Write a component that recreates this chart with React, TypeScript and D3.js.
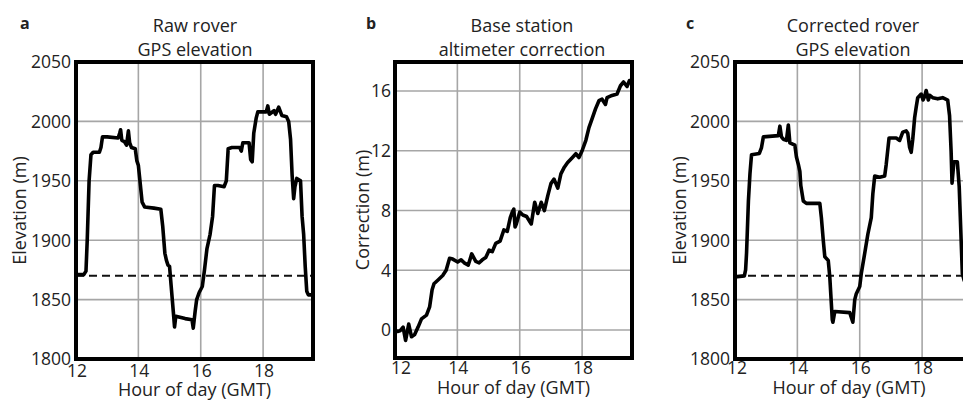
import React from 'react';
import * as d3 from 'd3';

// ---------- data ----------
const xTicks = [12, 14, 16, 18];
const elevTicks = [1800, 1850, 1900, 1950, 2000, 2050];
const corrTicks = [0, 4, 8, 12, 16];
const referenceElevation = 1870;

// [hour of day, raw rover GPS elevation (m)]
const rawRover: [number, number][] = [
  [12.0, 1871], [12.25, 1871], [12.32, 1874], [12.36, 1900], [12.42, 1950], [12.48, 1972],
  [12.55, 1974], [12.75, 1974], [12.8, 1978], [12.85, 1987], [13.0, 1987], [13.35, 1986],
  [13.4, 1990], [13.43, 1993], [13.47, 1984], [13.55, 1983], [13.62, 1980], [13.68, 1992],
  [13.72, 1982], [13.78, 1978], [13.9, 1977], [13.95, 1967], [14.0, 1963], [14.05, 1950],
  [14.12, 1932], [14.2, 1928], [14.5, 1927], [14.72, 1926], [14.78, 1912], [14.85, 1889],
  [14.9, 1883], [14.95, 1879], [15.0, 1878], [15.05, 1862], [15.12, 1840], [15.16, 1827],
  [15.2, 1836], [15.5, 1834], [15.72, 1833], [15.76, 1826], [15.82, 1840], [15.87, 1850],
  [15.95, 1856], [16.05, 1861], [16.12, 1875], [16.2, 1893], [16.3, 1905], [16.38, 1920],
  [16.44, 1946], [16.55, 1946], [16.75, 1945], [16.82, 1950], [16.88, 1977], [17.0, 1978],
  [17.25, 1978], [17.3, 1975], [17.35, 1982], [17.55, 1982], [17.6, 1968], [17.65, 1966],
  [17.7, 1990], [17.78, 2003], [17.83, 2008], [18.0, 2008], [18.1, 2008], [18.15, 2013],
  [18.2, 2006], [18.35, 2009], [18.4, 2006], [18.5, 2012], [18.6, 2005], [18.75, 2004],
  [18.82, 2000], [18.88, 1985], [18.93, 1955], [18.98, 1935], [19.02, 1945], [19.08, 1952],
  [19.2, 1950], [19.25, 1920], [19.3, 1905], [19.35, 1878], [19.4, 1857], [19.45, 1854],
  [19.6, 1854],
];

// [hour of day, base station altimeter correction (m)]
const baseCorrection: [number, number][] = [
  [12.0, 0.0], [12.08, -0.1], [12.16, -0.05], [12.26, 0.2], [12.34, -0.7], [12.44, 0.4],
  [12.53, -0.45], [12.63, -0.3], [12.74, 0.2], [12.85, 0.75], [13.01, 1.0], [13.11, 1.55],
  [13.19, 2.7], [13.25, 3.1], [13.38, 3.35], [13.53, 3.65], [13.64, 4.0], [13.75, 4.8],
  [13.85, 4.75], [14.01, 4.55], [14.12, 4.7], [14.22, 4.5], [14.35, 4.35], [14.46, 5.1],
  [14.59, 4.6], [14.7, 4.5], [14.8, 4.7], [14.91, 4.85], [15.02, 5.35], [15.12, 5.25],
  [15.23, 5.8], [15.37, 5.95], [15.49, 6.7], [15.6, 6.6], [15.7, 7.55], [15.76, 7.9],
  [15.81, 8.1], [15.85, 6.9], [15.89, 7.1], [16.0, 7.9], [16.1, 7.7], [16.22, 7.6],
  [16.37, 7.1], [16.48, 8.55], [16.58, 7.8], [16.69, 8.55], [16.79, 8.0], [16.9, 9.0],
  [17.0, 9.8], [17.1, 10.1], [17.22, 9.5], [17.32, 10.45], [17.43, 10.9], [17.53, 11.2],
  [17.69, 11.55], [17.8, 11.8], [17.9, 11.55], [18.0, 12.0], [18.12, 12.7], [18.22, 13.55],
  [18.33, 14.2], [18.43, 14.8], [18.54, 15.35], [18.64, 15.45], [18.75, 15.1], [18.8, 15.55],
  [18.96, 15.7], [19.12, 15.8], [19.23, 16.35], [19.33, 16.6], [19.44, 16.3], [19.52, 16.7],
  [19.6, 16.5],
];

// [hour of day, corrected rover GPS elevation (m)]
const correctedRover: [number, number][] = [
  [12.0, 1869], [12.3, 1870], [12.34, 1875], [12.37, 1889], [12.43, 1933], [12.48, 1956],
  [12.53, 1972], [12.78, 1973], [12.85, 1978], [12.91, 1987], [13.39, 1988], [13.44, 1996],
  [13.49, 1987], [13.55, 1985], [13.65, 1984], [13.71, 1997], [13.76, 1982], [13.92, 1980],
  [13.97, 1970], [14.03, 1964], [14.08, 1958], [14.11, 1946], [14.19, 1933], [14.29, 1931],
  [14.72, 1931], [14.77, 1919], [14.83, 1900], [14.88, 1886], [14.99, 1883], [15.04, 1869],
  [15.12, 1833], [15.14, 1831], [15.2, 1840], [15.68, 1839], [15.78, 1831], [15.84, 1850],
  [15.89, 1855], [16.0, 1861], [16.05, 1872], [16.16, 1889], [16.26, 1905], [16.37, 1919],
  [16.42, 1939], [16.48, 1954], [16.64, 1953], [16.8, 1954], [16.85, 1964], [16.94, 1986],
  [17.17, 1986], [17.28, 1984], [17.38, 1991], [17.49, 1992], [17.54, 1990], [17.6, 1978],
  [17.65, 1974], [17.7, 1985], [17.76, 2003], [17.81, 2012], [17.86, 2020], [17.97, 2023],
  [18.03, 2018], [18.08, 2021], [18.13, 2026], [18.2, 2018], [18.24, 2022], [18.34, 2020],
  [18.5, 2019], [18.66, 2020], [18.82, 2018], [18.88, 2005], [18.93, 1975], [18.96, 1948],
  [19.02, 1966], [19.13, 1966], [19.19, 1945], [19.29, 1872], [19.35, 1866], [19.6, 1870],
];

const FONT = "'Open Sans', 'Noto Sans', sans-serif";
const TEXT = '#222';

type PanelProps = {
  letter: string;
  title: [string, string];
  titleX: number;
  yLabel: string;
  yLabelX: number;
  box: { left: number; right: number; top: number; bottom: number };
  yDomain: [number, number];
  yTicks: number[];
  yTickGap: number;
  xTickBaseline: number;
  xTitleBaseline: number;
  firstXTickDx: number;
  data: [number, number][];
  reference?: number;
  letterX: number;
};

function Panel(p: PanelProps) {
  const { left, right, top, bottom } = p.box;
  const x = d3.scaleLinear().domain([12, 19.6]).range([left, right]);
  const y = d3.scaleLinear().domain(p.yDomain).range([bottom, top]);
  const line = d3
    .line<[number, number]>()
    .x((d) => x(d[0]))
    .y((d) => y(d[1]))
    .curve(d3.curveLinear);
  const clipId = `clip-${p.letter}`;
  const midY = (top + bottom) / 2;
  return (
    <g>
      <defs>
        <clipPath id={clipId}>
          <rect x={left} y={top} width={right - left} height={bottom - top} />
        </clipPath>
      </defs>
      {/* grid */}
      {xTicks.slice(1).map((t) => (
        <line key={`gx${t}`} x1={x(t)} x2={x(t)} y1={top} y2={bottom} stroke="#a6a6a6" strokeWidth={1.6} />
      ))}
      {p.yTicks
        .filter((t) => y(t) > top + 2 && y(t) < bottom - 2)
        .map((t) => (
          <line key={`gy${t}`} x1={left} x2={right} y1={y(t)} y2={y(t)} stroke="#a6a6a6" strokeWidth={1.6} />
        ))}
      {/* reference */}
      {p.reference !== undefined && (
        <line
          x1={left}
          x2={right}
          y1={y(p.reference)}
          y2={y(p.reference)}
          stroke="#111"
          strokeWidth={2}
          strokeDasharray="8 5"
        />
      )}
      {/* data */}
      <path
        d={line(p.data) || ''}
        fill="none"
        stroke="#000"
        strokeWidth={3.6}
        strokeLinejoin="round"
        strokeLinecap="round"
        clipPath={`url(#${clipId})`}
      />
      {/* frame */}
      <rect x={left} y={top} width={right - left} height={bottom - top} fill="none" stroke="#000" strokeWidth={4} />
      {/* y ticks */}
      {p.yTicks.map((t) => (
        <text
          key={`ty${t}`}
          x={left - p.yTickGap}
          y={y(t)}
          dy="0.36em"
          textAnchor="end"
          fontSize={17.5}
          fontFamily={FONT}
          fill={TEXT}
        >
          {t}
        </text>
      ))}
      {/* x ticks */}
      {xTicks.map((t, i) => (
        <text
          key={`tx${t}`}
          x={x(t) + 1 + (i === 0 ? p.firstXTickDx : 0)}
          y={p.xTickBaseline}
          textAnchor="middle"
          fontSize={17.5}
          fontFamily={FONT}
          fill={TEXT}
        >
          {t}
        </text>
      ))}
      <text
        x={(left + Math.min(right, 963)) / 2}
        y={p.xTitleBaseline}
        textAnchor="middle"
        fontSize={18}
        fontFamily={FONT}
        fill={TEXT}
      >
        Hour of day (GMT)
      </text>
      <text
        transform={`translate(${p.yLabelX},${midY}) rotate(-90)`}
        textAnchor="middle"
        fontSize={18}
        fontFamily={FONT}
        fill={TEXT}
      >
        {p.yLabel}
      </text>
      {/* titles */}
      <text x={p.titleX} y={32} textAnchor="middle" fontSize={18} fontFamily={FONT} fill={TEXT}>
        {p.title[0]}
      </text>
      <text x={p.titleX} y={56} textAnchor="middle" fontSize={18} fontFamily={FONT} fill={TEXT}>
        {p.title[1]}
      </text>
      <text x={p.letterX} y={29} fontSize={16} fontWeight={700} fontFamily={FONT} fill={TEXT}>
        {p.letter}
      </text>
    </g>
  );
}

export default function App() {
  return (
    <svg
      width={963}
      height={400}
      viewBox="0 0 963 400"
      style={{ position: 'absolute', left: 0, top: 0, background: '#fff' }}
    >
      <rect x={0} y={0} width={963} height={400} fill="#fff" />
      <Panel
        letter="a"
        letterX={20}
        title={['Raw rover', 'GPS elevation']}
        titleX={195}
        yLabel="Elevation (m)"
        yLabelX={26}
        box={{ left: 76, right: 313, top: 62, bottom: 359 }}
        yDomain={[1800, 2050]}
        yTicks={elevTicks}
        yTickGap={5}
        xTickBaseline={377}
        xTitleBaseline={396}
        firstXTickDx={0}
        data={rawRover}
        reference={referenceElevation}
      />
      <Panel
        letter="b"
        letterX={366}
        title={['Base station', 'altimeter correction']}
        titleX={522}
        yLabel="Correction (m)"
        yLabelX={369}
        box={{ left: 395, right: 632, top: 62, bottom: 358 }}
        yDomain={[-1.87, 17.94]}
        yTicks={corrTicks}
        yTickGap={4}
        xTickBaseline={374}
        xTitleBaseline={394}
        firstXTickDx={5}
        data={baseCorrection}
      />
      <Panel
        letter="c"
        letterX={686}
        title={['Corrected rover', 'GPS elevation']}
        titleX={853}
        yLabel="Elevation (m)"
        yLabelX={686}
        box={{ left: 735, right: 972, top: 62, bottom: 359 }}
        yDomain={[1800, 2050]}
        yTicks={elevTicks}
        yTickGap={5}
        xTickBaseline={374}
        xTitleBaseline={394}
        firstXTickDx={1}
        data={correctedRover}
        reference={referenceElevation}
      />
    </svg>
  );
}
